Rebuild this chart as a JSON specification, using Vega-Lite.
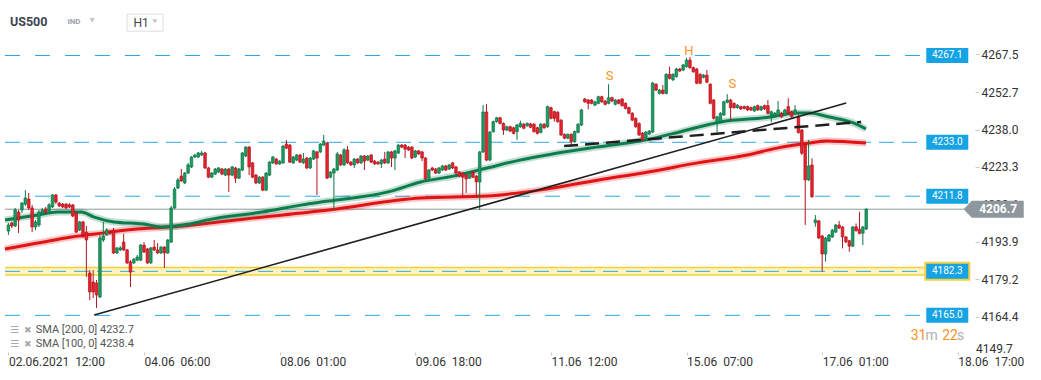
{
"$schema": "https://vega.github.io/schema/vega-lite/v6.json",
"width": 975, "height": 352,
"autosize": {"type": "none"},
"padding": {"left": 0, "top": 0, "right": 66, "bottom": 28},
"background": "#ffffff",
"config": {"view": {"stroke": null}, "font": "Roboto", "text": {"font": "Roboto"}, "axis": {"grid": false, "domain": false}},
"datasets": {
"levels": [{"p": 4267.1}, {"p": 4233.0}, {"p": 4211.8}, {"p": 4182.3}, {"p": 4165.0}],
"notes": [{"i": 177.3, "v": 4259.0, "t": "S"}, {"i": 200.7, "v": 4268.9, "t": "H"}, {"i": 213.5, "v": 4255.9, "t": "S"}],
"trend": [{"i": 25.3, "v": 4165.1}, {"i": 247.1, "v": 4248.4}],
"neck": [{"i": 163.9, "v": 4231.5}, {"i": 251.5, "v": 4241.0}],
"legend": [{"v": 4159.2, "t": "SMA [200, 0] 4232.7"}, {"v": 4153.7, "t": "SMA [100, 0] 4238.4"}],
"sma100": [{"i":-1,"v":4202.5},{"i":8.6,"v":4204.4},{"i":14.5,"v":4205.6},{"i":21.5,"v":4205.6},{"i":25.3,"v":4203.6},{"i":31.1,"v":4201.7},{"i":39.9,"v":4200.9},{"i":45.7,"v":4199.7},{"i":51.5,"v":4200.5},{"i":60.3,"v":4202.9},{"i":74.9,"v":4205.6},{"i":86.6,"v":4208.4},{"i":94.4,"v":4209.9},{"i":112,"v":4213.5},{"i":121.6,"v":4217.4},{"i":131.2,"v":4219.7},{"i":141.2,"v":4222.9},{"i":150.8,"v":4226.0},{"i":160.4,"v":4228.4},{"i":173.3,"v":4231.1},{"i":187.8,"v":4233.9},{"i":195.4,"v":4236.2},{"i":210.1,"v":4241.0},{"i":224.6,"v":4242.9},{"i":232.5,"v":4244.5},{"i":236.3,"v":4244.5},{"i":242.1,"v":4242.9},{"i":249.2,"v":4240.6},{"i":252.9,"v":4238.2}],
"sma200": [{"i":-1,"v":4191.1},{"i":8.6,"v":4193.4},{"i":18.6,"v":4195.8},{"i":28.2,"v":4197.4},{"i":37.8,"v":4198.9},{"i":51.5,"v":4200.1},{"i":69.9,"v":4202.9},{"i":94.4,"v":4206.4},{"i":121.6,"v":4211.1},{"i":141.2,"v":4211.9},{"i":156.6,"v":4214.2},{"i":174.1,"v":4218.2},{"i":188.7,"v":4221.3},{"i":203.3,"v":4224.9},{"i":217.9,"v":4228.0},{"i":226.7,"v":4230.7},{"i":236.3,"v":4232.7},{"i":241.3,"v":4233.5},{"i":252.9,"v":4232.7}],
"candles": [
{"i":0,"o":4198.1,"h":4201.3,"l":4196.6,"c":4200.5},
{"i":1,"o":4201.3,"h":4201.7,"l":4199.3,"c":4200.1},
{"i":2,"o":4200.1,"h":4207.2,"l":4199.7,"c":4206.4},
{"i":3,"o":4205.6,"h":4206.4,"l":4197.4,"c":4202.5},
{"i":4,"o":4206.4,"h":4209.5,"l":4205.2,"c":4209.1},
{"i":5,"o":4208.7,"h":4214.2,"l":4208.0,"c":4211.1},
{"i":6,"o":4210.7,"h":4213.1,"l":4206.4,"c":4207.2},
{"i":7,"o":4207.2,"h":4208.4,"l":4197.7,"c":4199.7},
{"i":8,"o":4199.7,"h":4202.5,"l":4198.5,"c":4201.7},
{"i":9,"o":4200.5,"h":4206.4,"l":4199.7,"c":4205.6},
{"i":10,"o":4205.2,"h":4207.2,"l":4204.8,"c":4206.4},
{"i":11,"o":4206.8,"h":4207.6,"l":4204.8,"c":4205.6},
{"i":12,"o":4206.0,"h":4209.1,"l":4205.6,"c":4208.4},
{"i":13,"o":4207.6,"h":4212.7,"l":4207.2,"c":4212.3},
{"i":14,"o":4212.3,"h":4212.7,"l":4208.7,"c":4209.5},
{"i":15,"o":4209.1,"h":4209.5,"l":4207.6,"c":4208.0},
{"i":16,"o":4208.7,"h":4209.1,"l":4207.2,"c":4207.6},
{"i":17,"o":4208.7,"h":4209.1,"l":4206.8,"c":4207.2},
{"i":18,"o":4208.4,"h":4209.1,"l":4207.2,"c":4207.6},
{"i":19,"o":4208.4,"h":4208.7,"l":4203.6,"c":4204.0},
{"i":20,"o":4205.2,"h":4205.6,"l":4197.4,"c":4197.7},
{"i":21,"o":4198.5,"h":4202.1,"l":4198.1,"c":4201.7},
{"i":22,"o":4201.7,"h":4202.1,"l":4195.4,"c":4196.6},
{"i":23,"o":4197.7,"h":4200.1,"l":4180.1,"c":4194.6},
{"i":24,"o":4181.6,"h":4182.8,"l":4171.0,"c":4174.2},
{"i":25,"o":4178.1,"h":4182.8,"l":4171.8,"c":4174.2},
{"i":26,"o":4177.7,"h":4178.9,"l":4167.9,"c":4173.0},
{"i":27,"o":4172.2,"h":4196.6,"l":4171.8,"c":4195.4},
{"i":28,"o":4194.6,"h":4201.7,"l":4193.8,"c":4196.2},
{"i":29,"o":4196.6,"h":4199.3,"l":4196.2,"c":4198.5},
{"i":30,"o":4198.1,"h":4198.5,"l":4196.6,"c":4197.4},
{"i":31,"o":4198.5,"h":4199.3,"l":4189.1,"c":4189.5},
{"i":32,"o":4189.5,"h":4191.8,"l":4189.1,"c":4191.5},
{"i":33,"o":4190.7,"h":4192.2,"l":4190.3,"c":4191.5},
{"i":34,"o":4193.8,"h":4197.0,"l":4190.3,"c":4190.7},
{"i":35,"o":4190.7,"h":4191.1,"l":4185.2,"c":4185.6},
{"i":36,"o":4186.0,"h":4186.7,"l":4176.1,"c":4182.0},
{"i":37,"o":4185.6,"h":4187.5,"l":4185.2,"c":4187.1},
{"i":38,"o":4186.7,"h":4188.7,"l":4186.3,"c":4187.9},
{"i":39,"o":4186.7,"h":4193.0,"l":4186.3,"c":4192.6},
{"i":40,"o":4192.6,"h":4193.8,"l":4189.5,"c":4189.9},
{"i":41,"o":4191.1,"h":4191.5,"l":4185.2,"c":4185.6},
{"i":42,"o":4185.6,"h":4191.8,"l":4185.2,"c":4191.5},
{"i":43,"o":4191.8,"h":4194.6,"l":4190.3,"c":4190.7},
{"i":44,"o":4190.7,"h":4193.4,"l":4189.1,"c":4189.5},
{"i":45,"o":4189.5,"h":4192.2,"l":4189.1,"c":4191.8},
{"i":46,"o":4191.8,"h":4192.2,"l":4183.6,"c":4189.5},
{"i":47,"o":4189.5,"h":4195.0,"l":4189.1,"c":4194.6},
{"i":48,"o":4193.8,"h":4208.0,"l":4193.4,"c":4207.2},
{"i":49,"o":4207.2,"h":4215.4,"l":4206.8,"c":4214.6},
{"i":50,"o":4215.0,"h":4218.9,"l":4214.6,"c":4218.2},
{"i":51,"o":4219.7,"h":4222.5,"l":4217.4,"c":4217.8},
{"i":52,"o":4217.0,"h":4221.3,"l":4216.6,"c":4220.9},
{"i":53,"o":4220.9,"h":4224.9,"l":4220.5,"c":4224.1},
{"i":54,"o":4223.3,"h":4227.6,"l":4222.9,"c":4227.2},
{"i":55,"o":4227.2,"h":4228.4,"l":4226.8,"c":4228.0},
{"i":56,"o":4227.2,"h":4229.2,"l":4226.8,"c":4228.8},
{"i":57,"o":4228.0,"h":4229.6,"l":4227.6,"c":4228.8},
{"i":58,"o":4228.8,"h":4229.2,"l":4222.5,"c":4222.9},
{"i":59,"o":4222.9,"h":4223.3,"l":4218.9,"c":4219.3},
{"i":60,"o":4219.3,"h":4221.3,"l":4218.9,"c":4220.9},
{"i":61,"o":4220.5,"h":4222.9,"l":4220.1,"c":4222.5},
{"i":62,"o":4221.3,"h":4223.3,"l":4220.9,"c":4222.9},
{"i":63,"o":4222.5,"h":4222.9,"l":4220.1,"c":4220.5},
{"i":64,"o":4220.1,"h":4222.9,"l":4219.7,"c":4222.5},
{"i":65,"o":4222.5,"h":4222.9,"l":4213.5,"c":4220.1},
{"i":66,"o":4220.1,"h":4223.7,"l":4219.7,"c":4223.3},
{"i":67,"o":4222.9,"h":4223.3,"l":4217.0,"c":4218.9},
{"i":68,"o":4218.9,"h":4222.9,"l":4218.6,"c":4222.5},
{"i":69,"o":4222.1,"h":4229.2,"l":4221.7,"c":4228.8},
{"i":70,"o":4227.6,"h":4231.5,"l":4227.2,"c":4231.1},
{"i":71,"o":4231.1,"h":4231.5,"l":4220.1,"c":4223.3},
{"i":72,"o":4224.9,"h":4225.2,"l":4218.9,"c":4219.3},
{"i":73,"o":4220.1,"h":4220.5,"l":4216.6,"c":4217.0},
{"i":74,"o":4217.0,"h":4219.7,"l":4216.6,"c":4219.3},
{"i":75,"o":4219.3,"h":4219.7,"l":4213.8,"c":4214.2},
{"i":76,"o":4214.2,"h":4221.3,"l":4213.8,"c":4220.9},
{"i":77,"o":4220.1,"h":4225.6,"l":4219.7,"c":4225.2},
{"i":78,"o":4224.9,"h":4227.6,"l":4224.5,"c":4227.2},
{"i":79,"o":4226.4,"h":4226.8,"l":4224.1,"c":4224.5},
{"i":80,"o":4224.5,"h":4226.0,"l":4224.1,"c":4225.6},
{"i":81,"o":4224.9,"h":4231.9,"l":4224.5,"c":4231.5},
{"i":82,"o":4232.3,"h":4233.9,"l":4230.3,"c":4230.7},
{"i":83,"o":4231.9,"h":4232.3,"l":4224.9,"c":4225.2},
{"i":84,"o":4224.9,"h":4227.6,"l":4224.5,"c":4227.2},
{"i":85,"o":4226.0,"h":4228.4,"l":4225.6,"c":4228.0},
{"i":86,"o":4228.0,"h":4228.4,"l":4224.9,"c":4225.2},
{"i":87,"o":4224.9,"h":4228.8,"l":4224.5,"c":4226.4},
{"i":88,"o":4226.8,"h":4227.2,"l":4222.5,"c":4222.9},
{"i":89,"o":4222.9,"h":4227.2,"l":4222.5,"c":4226.8},
{"i":90,"o":4226.4,"h":4230.0,"l":4226.0,"c":4229.6},
{"i":91,"o":4229.2,"h":4229.6,"l":4212.3,"c":4226.8},
{"i":92,"o":4229.2,"h":4232.7,"l":4228.8,"c":4232.3},
{"i":93,"o":4231.9,"h":4235.9,"l":4231.5,"c":4233.5},
{"i":94,"o":4232.7,"h":4233.1,"l":4218.6,"c":4218.9},
{"i":95,"o":4219.3,"h":4221.7,"l":4218.9,"c":4221.3},
{"i":96,"o":4220.9,"h":4222.9,"l":4206.4,"c":4222.5},
{"i":97,"o":4222.1,"h":4229.2,"l":4221.7,"c":4228.4},
{"i":98,"o":4228.0,"h":4228.4,"l":4223.7,"c":4224.1},
{"i":99,"o":4224.1,"h":4230.7,"l":4223.7,"c":4230.0},
{"i":100,"o":4230.0,"h":4231.5,"l":4224.5,"c":4224.9},
{"i":101,"o":4225.2,"h":4225.6,"l":4223.7,"c":4224.1},
{"i":102,"o":4224.1,"h":4226.8,"l":4222.9,"c":4226.4},
{"i":103,"o":4226.4,"h":4226.8,"l":4224.5,"c":4224.9},
{"i":104,"o":4224.9,"h":4228.0,"l":4224.5,"c":4227.6},
{"i":105,"o":4227.6,"h":4228.0,"l":4222.1,"c":4225.6},
{"i":106,"o":4226.0,"h":4228.0,"l":4225.6,"c":4227.6},
{"i":107,"o":4228.0,"h":4228.4,"l":4224.9,"c":4225.2},
{"i":108,"o":4225.6,"h":4226.0,"l":4224.1,"c":4224.5},
{"i":109,"o":4225.2,"h":4225.6,"l":4224.1,"c":4224.5},
{"i":110,"o":4224.5,"h":4226.4,"l":4222.9,"c":4226.0},
{"i":111,"o":4226.4,"h":4229.2,"l":4224.5,"c":4224.9},
{"i":112,"o":4224.9,"h":4229.6,"l":4224.5,"c":4229.2},
{"i":113,"o":4229.2,"h":4229.6,"l":4223.3,"c":4226.8},
{"i":114,"o":4226.8,"h":4230.0,"l":4222.1,"c":4229.6},
{"i":115,"o":4228.8,"h":4232.3,"l":4228.4,"c":4231.9},
{"i":116,"o":4231.9,"h":4232.3,"l":4230.7,"c":4231.1},
{"i":117,"o":4231.9,"h":4232.3,"l":4226.8,"c":4230.3},
{"i":118,"o":4231.1,"h":4231.5,"l":4229.6,"c":4230.0},
{"i":119,"o":4231.1,"h":4231.5,"l":4226.4,"c":4226.8},
{"i":120,"o":4227.2,"h":4230.0,"l":4226.8,"c":4229.6},
{"i":121,"o":4229.6,"h":4230.0,"l":4228.0,"c":4228.4},
{"i":122,"o":4229.2,"h":4229.6,"l":4225.6,"c":4226.8},
{"i":123,"o":4226.8,"h":4227.2,"l":4218.2,"c":4218.6},
{"i":124,"o":4218.9,"h":4222.5,"l":4218.6,"c":4222.1},
{"i":125,"o":4222.9,"h":4223.3,"l":4221.7,"c":4222.1},
{"i":126,"o":4222.5,"h":4222.9,"l":4220.5,"c":4220.9},
{"i":127,"o":4220.9,"h":4223.3,"l":4220.5,"c":4222.9},
{"i":128,"o":4222.1,"h":4224.1,"l":4221.7,"c":4223.7},
{"i":129,"o":4223.7,"h":4224.1,"l":4221.7,"c":4222.1},
{"i":130,"o":4222.5,"h":4224.5,"l":4222.1,"c":4224.1},
{"i":131,"o":4224.9,"h":4225.2,"l":4222.5,"c":4222.9},
{"i":132,"o":4223.3,"h":4223.7,"l":4220.5,"c":4220.9},
{"i":133,"o":4221.3,"h":4221.7,"l":4219.3,"c":4219.7},
{"i":134,"o":4220.9,"h":4221.3,"l":4211.5,"c":4219.3},
{"i":135,"o":4220.1,"h":4220.5,"l":4213.1,"c":4218.6},
{"i":136,"o":4218.9,"h":4221.3,"l":4218.6,"c":4220.9},
{"i":137,"o":4221.3,"h":4221.7,"l":4218.9,"c":4219.3},
{"i":138,"o":4219.7,"h":4220.1,"l":4211.5,"c":4217.4},
{"i":139,"o":4217.4,"h":4229.6,"l":4206.4,"c":4229.2},
{"i":140,"o":4229.2,"h":4247.6,"l":4228.8,"c":4244.9},
{"i":141,"o":4244.9,"h":4248.0,"l":4225.6,"c":4226.0},
{"i":142,"o":4226.0,"h":4237.4,"l":4225.6,"c":4237.0},
{"i":143,"o":4237.2,"h":4241.5,"l":4236.8,"c":4241.1},
{"i":144,"o":4241.1,"h":4243.0,"l":4240.7,"c":4242.6},
{"i":145,"o":4242.6,"h":4243.0,"l":4240.0,"c":4240.4},
{"i":146,"o":4240.4,"h":4240.8,"l":4235.9,"c":4237.8},
{"i":147,"o":4237.8,"h":4239.5,"l":4237.4,"c":4239.1},
{"i":148,"o":4239.1,"h":4239.5,"l":4237.0,"c":4237.4},
{"i":149,"o":4238.7,"h":4239.1,"l":4236.1,"c":4236.5},
{"i":150,"o":4237.2,"h":4240.2,"l":4233.9,"c":4239.8},
{"i":151,"o":4239.1,"h":4241.5,"l":4238.7,"c":4240.4},
{"i":152,"o":4240.1,"h":4240.5,"l":4238.1,"c":4238.5},
{"i":153,"o":4239.5,"h":4240.8,"l":4239.1,"c":4240.4},
{"i":154,"o":4240.2,"h":4240.6,"l":4238.5,"c":4238.9},
{"i":155,"o":4240.1,"h":4240.5,"l":4236.8,"c":4237.2},
{"i":156,"o":4238.7,"h":4239.1,"l":4236.1,"c":4236.5},
{"i":157,"o":4236.9,"h":4240.5,"l":4236.5,"c":4240.1},
{"i":158,"o":4240.1,"h":4240.5,"l":4238.3,"c":4238.7},
{"i":159,"o":4239.1,"h":4247.4,"l":4238.7,"c":4247.0},
{"i":160,"o":4246.6,"h":4247.0,"l":4242.0,"c":4242.4},
{"i":161,"o":4245.0,"h":4245.4,"l":4241.1,"c":4242.4},
{"i":162,"o":4244.8,"h":4245.2,"l":4240.7,"c":4241.1},
{"i":163,"o":4241.7,"h":4242.1,"l":4235.5,"c":4235.9},
{"i":164,"o":4236.1,"h":4236.5,"l":4234.2,"c":4234.6},
{"i":165,"o":4234.6,"h":4236.5,"l":4234.2,"c":4236.1},
{"i":166,"o":4236.1,"h":4236.5,"l":4231.3,"c":4233.2},
{"i":167,"o":4233.2,"h":4237.6,"l":4232.8,"c":4237.2},
{"i":168,"o":4236.9,"h":4240.5,"l":4236.5,"c":4240.1},
{"i":169,"o":4239.8,"h":4246.1,"l":4239.4,"c":4245.7},
{"i":170,"o":4250.0,"h":4250.4,"l":4248.5,"c":4248.9},
{"i":171,"o":4249.6,"h":4250.0,"l":4245.9,"c":4248.3},
{"i":172,"o":4249.6,"h":4250.0,"l":4247.9,"c":4248.3},
{"i":173,"o":4247.6,"h":4249.3,"l":4247.2,"c":4248.9},
{"i":174,"o":4248.3,"h":4251.3,"l":4247.9,"c":4250.9},
{"i":175,"o":4250.9,"h":4251.3,"l":4248.5,"c":4248.9},
{"i":176,"o":4249.2,"h":4249.6,"l":4247.5,"c":4247.9},
{"i":177,"o":4248.3,"h":4255.8,"l":4247.9,"c":4250.5},
{"i":178,"o":4250.5,"h":4250.9,"l":4248.8,"c":4249.2},
{"i":179,"o":4247.9,"h":4250.0,"l":4247.5,"c":4249.6},
{"i":180,"o":4249.6,"h":4250.0,"l":4247.9,"c":4248.3},
{"i":181,"o":4250.0,"h":4250.4,"l":4247.0,"c":4247.4},
{"i":182,"o":4248.3,"h":4248.7,"l":4245.9,"c":4246.3},
{"i":183,"o":4246.6,"h":4247.0,"l":4244.0,"c":4244.4},
{"i":184,"o":4244.4,"h":4244.8,"l":4241.3,"c":4241.7},
{"i":185,"o":4242.4,"h":4242.8,"l":4238.7,"c":4239.1},
{"i":186,"o":4240.4,"h":4240.8,"l":4235.5,"c":4235.9},
{"i":187,"o":4236.6,"h":4237.0,"l":4233.5,"c":4233.9},
{"i":188,"o":4234.7,"h":4237.4,"l":4234.3,"c":4237.0},
{"i":189,"o":4236.2,"h":4237.8,"l":4235.9,"c":4237.4},
{"i":190,"o":4237.0,"h":4256.7,"l":4236.6,"c":4256.3},
{"i":191,"o":4255.8,"h":4256.2,"l":4253.1,"c":4253.5},
{"i":192,"o":4252.2,"h":4253.9,"l":4251.8,"c":4253.5},
{"i":193,"o":4253.5,"h":4255.5,"l":4251.8,"c":4252.2},
{"i":194,"o":4252.2,"h":4260.1,"l":4251.8,"c":4259.7},
{"i":195,"o":4259.7,"h":4262.7,"l":4257.7,"c":4258.1},
{"i":196,"o":4257.5,"h":4260.1,"l":4257.1,"c":4259.7},
{"i":197,"o":4258.8,"h":4262.2,"l":4258.4,"c":4261.8},
{"i":198,"o":4261.8,"h":4262.2,"l":4260.6,"c":4261.0},
{"i":199,"o":4261.4,"h":4263.8,"l":4261.0,"c":4263.4},
{"i":200,"o":4262.7,"h":4266.2,"l":4262.3,"c":4265.3},
{"i":201,"o":4265.3,"h":4266.5,"l":4261.9,"c":4262.3},
{"i":202,"o":4262.3,"h":4262.7,"l":4260.3,"c":4260.7},
{"i":203,"o":4261.8,"h":4262.2,"l":4255.8,"c":4256.2},
{"i":204,"o":4259.7,"h":4260.1,"l":4255.8,"c":4256.2},
{"i":205,"o":4258.5,"h":4259.8,"l":4258.1,"c":4259.4},
{"i":206,"o":4259.4,"h":4261.4,"l":4256.2,"c":4256.6},
{"i":207,"o":4255.8,"h":4256.2,"l":4247.9,"c":4248.3},
{"i":208,"o":4249.6,"h":4250.0,"l":4242.0,"c":4242.4},
{"i":209,"o":4240.8,"h":4243.4,"l":4236.9,"c":4243.0},
{"i":210,"o":4241.1,"h":4244.8,"l":4240.7,"c":4244.4},
{"i":211,"o":4243.7,"h":4249.3,"l":4243.3,"c":4248.9},
{"i":212,"o":4248.7,"h":4251.9,"l":4248.3,"c":4249.6},
{"i":213,"o":4249.6,"h":4250.0,"l":4241.8,"c":4246.6},
{"i":214,"o":4248.3,"h":4248.7,"l":4246.2,"c":4246.6},
{"i":215,"o":4246.6,"h":4248.0,"l":4246.2,"c":4247.6},
{"i":216,"o":4247.0,"h":4247.4,"l":4245.7,"c":4246.1},
{"i":217,"o":4247.0,"h":4247.4,"l":4245.9,"c":4246.3},
{"i":218,"o":4247.0,"h":4247.4,"l":4245.3,"c":4245.7},
{"i":219,"o":4246.6,"h":4247.0,"l":4245.3,"c":4245.7},
{"i":220,"o":4245.3,"h":4247.4,"l":4244.9,"c":4247.0},
{"i":221,"o":4247.4,"h":4247.8,"l":4245.3,"c":4245.7},
{"i":222,"o":4245.7,"h":4247.4,"l":4245.3,"c":4247.0},
{"i":223,"o":4247.4,"h":4247.8,"l":4245.7,"c":4246.1},
{"i":224,"o":4247.4,"h":4249.6,"l":4244.0,"c":4244.4},
{"i":225,"o":4243.7,"h":4245.4,"l":4240.8,"c":4245.0},
{"i":226,"o":4243.7,"h":4244.8,"l":4243.3,"c":4244.4},
{"i":227,"o":4243.4,"h":4249.2,"l":4243.0,"c":4245.7},
{"i":228,"o":4244.4,"h":4244.8,"l":4242.6,"c":4243.0},
{"i":229,"o":4243.7,"h":4246.1,"l":4243.3,"c":4245.7},
{"i":230,"o":4247.0,"h":4250.3,"l":4244.0,"c":4244.4},
{"i":231,"o":4245.0,"h":4245.4,"l":4242.6,"c":4243.0},
{"i":232,"o":4244.1,"h":4247.6,"l":4243.7,"c":4245.7},
{"i":233,"o":4243.0,"h":4244.0,"l":4236.4,"c":4236.8},
{"i":234,"o":4237.8,"h":4238.2,"l":4228.0,"c":4228.7},
{"i":235,"o":4231.9,"h":4232.3,"l":4200.5,"c":4218.2},
{"i":236,"o":4218.2,"h":4233.9,"l":4217.8,"c":4223.7},
{"i":237,"o":4224.1,"h":4226.7,"l":4211.2,"c":4211.6},
{"i":238,"o":4201.4,"h":4204.4,"l":4199.8,"c":4202.5},
{"i":239,"o":4202.1,"h":4202.5,"l":4195.0,"c":4195.4},
{"i":240,"o":4196.2,"h":4196.6,"l":4182.2,"c":4189.1},
{"i":241,"o":4189.1,"h":4195.8,"l":4186.1,"c":4195.4},
{"i":242,"o":4194.2,"h":4197.0,"l":4193.8,"c":4196.6},
{"i":243,"o":4195.8,"h":4198.9,"l":4195.4,"c":4198.5},
{"i":244,"o":4197.7,"h":4200.9,"l":4197.4,"c":4200.5},
{"i":245,"o":4200.5,"h":4202.1,"l":4198.9,"c":4199.3},
{"i":246,"o":4199.7,"h":4200.1,"l":4191.3,"c":4195.8},
{"i":247,"o":4195.8,"h":4196.2,"l":4193.4,"c":4193.9},
{"i":248,"o":4194.3,"h":4194.7,"l":4190.0,"c":4192.2},
{"i":249,"o":4192.2,"h":4200.1,"l":4191.8,"c":4199.7},
{"i":250,"o":4199.8,"h":4201.1,"l":4197.9,"c":4198.3},
{"i":251,"o":4198.8,"h":4205.7,"l":4196.8,"c":4197.2},
{"i":252,"o":4197.3,"h":4200.1,"l":4192.6,"c":4199.7},
{"i":253,"o":4198.9,"h":4207.1,"l":4198.5,"c":4206.7}
]
},
"layer": [
{"data": {"name": "candles"}, "mark": {"type": "rule", "opacity": 0},
 "encoding": {
  "x": {"field": "i", "type": "quantitative", "title": null, "scale": {"domain": [-1, 283.6], "nice": false, "zero": false},
   "axis": {"values": [0, 40, 80, 120, 160, 200, 240, 280], "title": null, "domain": false, "grid": false, "tickSize": 3, "tickColor": "#cccccc", "labelAlign": "left", "labelPadding": 1, "labelFontSize": 12, "labelColor": "#333333", "labelFont": "Roboto", "labelFlush": false, "labelOverlap": false,
    "labelExpr": "datum.value==0?'02.06.2021\u00a0\u00a012:00':datum.value==40?'04.06\u00a0\u00a006:00':datum.value==80?'08.06\u00a0\u00a001:00':datum.value==120?'09.06\u00a0\u00a018:00':datum.value==160?'11.06\u00a0\u00a012:00':datum.value==200?'15.06\u00a0\u00a007:00':datum.value==240?'17.06\u00a0\u00a001:00':'18.06\u00a0\u00a017:00'"}},
  "y": {"field": "l", "type": "quantitative", "title": null, "scale": {"domain": [4150.6, 4288.9], "nice": false, "zero": false},
   "axis": {"orient": "right", "values": [4164.4, 4179.2, 4193.9, 4208.6, 4223.3, 4238.0, 4252.7, 4267.5], "format": ".1f", "title": null, "domain": false, "grid": false, "tickSize": 4, "tickColor": "#cccccc", "labelPadding": 2, "labelFontSize": 12, "labelColor": "#333333", "labelFont": "Roboto"}},
  "y2": {"field": "h"}}},
{"data": {"values": [{"p": 4182.3}]}, "mark": {"type": "rule", "color": "#f4d03f", "strokeWidth": 9},
 "encoding": {"x": {"datum": -1, "type": "quantitative", "scale": {"domain": [-1, 283.6], "nice": false, "zero": false}}, "x2": {"datum": 270.6},
  "y": {"field": "p", "type": "quantitative", "scale": {"domain": [4150.6, 4288.9], "nice": false, "zero": false}}}},
{"data": {"values": [{"p": 4182.3}]}, "mark": {"type": "rule", "color": "#fff5bd", "strokeWidth": 6},
 "encoding": {"x": {"datum": -1, "type": "quantitative", "scale": {"domain": [-1, 283.6], "nice": false, "zero": false}}, "x2": {"datum": 270.6},
  "y": {"field": "p", "type": "quantitative", "scale": {"domain": [4150.6, 4288.9], "nice": false, "zero": false}}}},
{"data": {"values": [{"p": 4182.3}]}, "mark": {"type": "point", "shape": "M-2.3,-0.95H2.3V0.95H-2.3Z", "size": 400, "filled": true, "color": "#f4d03f", "opacity": 1},
 "encoding": {"x": {"datum": 276.9, "type": "quantitative", "scale": {"domain": [-1, 283.6], "nice": false, "zero": false}},
  "y": {"field": "p", "type": "quantitative", "scale": {"domain": [4150.6, 4288.9], "nice": false, "zero": false}}}},
{"data": {"name": "levels"}, "transform": [{"filter": "datum.p == 4233.0 || datum.p == 4182.3"}], "mark": {"type": "rule", "color": "#2aa9e0", "strokeWidth": 1, "strokeDash": [15, 8]},
 "encoding": {"x": {"datum": -1, "type": "quantitative", "scale": {"domain": [-1, 283.6], "nice": false, "zero": false}}, "x2": {"datum": 269.5},
  "y": {"field": "p", "type": "quantitative", "scale": {"domain": [4150.6, 4288.9], "nice": false, "zero": false}}}},
{"data": {"name": "levels"}, "transform": [{"filter": "datum.p != 4233.0 && datum.p != 4182.3"}], "mark": {"type": "rule", "color": "#2aa9e0", "strokeWidth": 1, "strokeDash": [15, 15]},
 "encoding": {"x": {"datum": -1, "type": "quantitative", "scale": {"domain": [-1, 283.6], "nice": false, "zero": false}}, "x2": {"datum": 269.5},
  "y": {"field": "p", "type": "quantitative", "scale": {"domain": [4150.6, 4288.9], "nice": false, "zero": false}}}},
{"data": {"values": [{"p": 4206.7}]}, "mark": {"type": "rule", "color": "#8e989c", "strokeWidth": 1},
 "encoding": {"x": {"datum": -1, "type": "quantitative", "scale": {"domain": [-1, 283.6], "nice": false, "zero": false}}, "x2": {"datum": 282.1},
  "y": {"field": "p", "type": "quantitative", "scale": {"domain": [4150.6, 4288.9], "nice": false, "zero": false}}}},
{"data": {"name": "sma200"}, "mark": {"type": "line", "color": "#e31b1b", "strokeWidth": 7, "opacity": 0.25, "interpolate": "monotone"},
 "encoding": {"x": {"field": "i", "type": "quantitative", "scale": {"domain": [-1, 283.6], "nice": false, "zero": false}},
  "y": {"field": "v", "type": "quantitative", "scale": {"domain": [4150.6, 4288.9], "nice": false, "zero": false}}}},
{"data": {"name": "sma200"}, "mark": {"type": "line", "color": "#e01414", "strokeWidth": 3, "interpolate": "monotone"},
 "encoding": {"x": {"field": "i", "type": "quantitative", "scale": {"domain": [-1, 283.6], "nice": false, "zero": false}},
  "y": {"field": "v", "type": "quantitative", "scale": {"domain": [4150.6, 4288.9], "nice": false, "zero": false}}}},
{"data": {"name": "sma100"}, "mark": {"type": "line", "color": "#0e7d4e", "strokeWidth": 7, "opacity": 0.25, "interpolate": "monotone"},
 "encoding": {"x": {"field": "i", "type": "quantitative", "scale": {"domain": [-1, 283.6], "nice": false, "zero": false}},
  "y": {"field": "v", "type": "quantitative", "scale": {"domain": [4150.6, 4288.9], "nice": false, "zero": false}}}},
{"data": {"name": "sma100"}, "mark": {"type": "line", "color": "#0e7d4e", "strokeWidth": 3, "interpolate": "monotone"},
 "encoding": {"x": {"field": "i", "type": "quantitative", "scale": {"domain": [-1, 283.6], "nice": false, "zero": false}},
  "y": {"field": "v", "type": "quantitative", "scale": {"domain": [4150.6, 4288.9], "nice": false, "zero": false}}}},
{"data": {"name": "candles"}, "mark": {"type": "rule", "strokeWidth": 1},
 "encoding": {
  "x": {"field": "i", "type": "quantitative", "scale": {"domain": [-1, 283.6], "nice": false, "zero": false}},
  "y": {"field": "l", "type": "quantitative", "scale": {"domain": [4150.6, 4288.9], "nice": false, "zero": false}},
  "y2": {"field": "h"},
  "color": {"condition": {"test": "datum.c >= datum.o", "value": "#0f7446"}, "value": "#b3141d"}}},
{"data": {"name": "candles"}, "mark": {"type": "bar", "width": 2.6, "strokeWidth": 0.7},
 "encoding": {
  "x": {"field": "i", "type": "quantitative", "scale": {"domain": [-1, 283.6], "nice": false, "zero": false}},
  "y": {"field": "o", "type": "quantitative", "scale": {"domain": [4150.6, 4288.9], "nice": false, "zero": false}},
  "y2": {"field": "c"},
  "fill": {"condition": {"test": "datum.c >= datum.o", "value": "#1e9a63"}, "value": "#e6232d"},
  "stroke": {"condition": {"test": "datum.c >= datum.o", "value": "#0f7446"}, "value": "#b3141d"}}},
{"data": {"name": "trend"}, "mark": {"type": "line", "color": "#1f1f1f", "strokeWidth": 1.6},
 "encoding": {"x": {"field": "i", "type": "quantitative", "scale": {"domain": [-1, 283.6], "nice": false, "zero": false}},
  "y": {"field": "v", "type": "quantitative", "scale": {"domain": [4150.6, 4288.9], "nice": false, "zero": false}}}},
{"data": {"name": "neck"}, "mark": {"type": "line", "color": "#1f1f1f", "strokeWidth": 2.5, "strokeDash": [14, 7]},
 "encoding": {"x": {"field": "i", "type": "quantitative", "scale": {"domain": [-1, 283.6], "nice": false, "zero": false}},
  "y": {"field": "v", "type": "quantitative", "scale": {"domain": [4150.6, 4288.9], "nice": false, "zero": false}}}},
{"data": {"name": "levels"}, "mark": {"type": "point", "shape": "M-2.1,-0.75H2.1V0.75H-2.1Z", "size": 400, "filled": true, "color": "#16a3e3", "opacity": 1},
 "encoding": {"x": {"datum": 276.9, "type": "quantitative", "scale": {"domain": [-1, 283.6], "nice": false, "zero": false}},
  "y": {"field": "p", "type": "quantitative", "scale": {"domain": [4150.6, 4288.9], "nice": false, "zero": false}}}},
{"data": {"name": "levels"}, "mark": {"type": "text", "color": "#ffffff", "fontSize": 10, "align": "center", "baseline": "middle", "font": "Roboto"},
 "encoding": {"x": {"datum": 276.9, "type": "quantitative", "scale": {"domain": [-1, 283.6], "nice": false, "zero": false}},
  "y": {"field": "p", "type": "quantitative", "scale": {"domain": [4150.6, 4288.9], "nice": false, "zero": false}},
  "text": {"field": "p", "type": "quantitative", "format": ".1f"}}},
{"data": {"values": [{"p": 4206.7}]}, "mark": {"type": "point", "shape": "M-3.0,0L-2.2,-0.85H3.0V0.85H-2.2Z", "size": 400, "filled": true, "color": "#8e989c", "opacity": 1},
 "encoding": {"x": {"datum": 290.6, "type": "quantitative", "scale": {"domain": [-1, 283.6], "nice": false, "zero": false}},
  "y": {"field": "p", "type": "quantitative", "scale": {"domain": [4150.6, 4288.9], "nice": false, "zero": false}}}},
{"data": {"values": [{"p": 4206.7}]}, "mark": {"type": "text", "color": "#ffffff", "fontSize": 12, "fontWeight": "bold", "align": "center", "baseline": "middle", "font": "Roboto"},
 "encoding": {"x": {"datum": 291.9, "type": "quantitative", "scale": {"domain": [-1, 283.6], "nice": false, "zero": false}},
  "y": {"field": "p", "type": "quantitative", "scale": {"domain": [4150.6, 4288.9], "nice": false, "zero": false}},
  "text": {"field": "p", "type": "quantitative", "format": ".1f"}}},
{"data": {"name": "notes"}, "mark": {"type": "text", "color": "#f7941d", "fontSize": 13, "align": "center", "baseline": "middle", "font": "Roboto"},
 "encoding": {"x": {"field": "i", "type": "quantitative", "scale": {"domain": [-1, 283.6], "nice": false, "zero": false}},
  "y": {"field": "v", "type": "quantitative", "scale": {"domain": [4150.6, 4288.9], "nice": false, "zero": false}},
  "text": {"field": "t"}}},
{"data": {"name": "legend"}, "mark": {"type": "text", "color": "#555555", "fontSize": 11, "align": "left", "baseline": "middle", "font": "Roboto"},
 "encoding": {"x": {"datum": 8.05, "type": "quantitative", "scale": {"domain": [-1, 283.6], "nice": false, "zero": false}},
  "y": {"field": "v", "type": "quantitative", "scale": {"domain": [4150.6, 4288.9], "nice": false, "zero": false}},
  "text": {"field": "t"}}},
{"data": {"name": "legend"}, "mark": {"type": "text", "color": "#a8a8a8", "fontSize": 10, "align": "center", "baseline": "middle", "font": "DejaVu Sans", "text": "☰"},
 "encoding": {"x": {"datum": 1.9, "type": "quantitative", "scale": {"domain": [-1, 283.6], "nice": false, "zero": false}},
  "y": {"field": "v", "type": "quantitative", "scale": {"domain": [4150.6, 4288.9], "nice": false, "zero": false}}}},
{"data": {"name": "legend"}, "mark": {"type": "text", "color": "#a8a8a8", "fontSize": 9, "align": "center", "baseline": "middle", "font": "DejaVu Sans", "text": "✖"},
 "encoding": {"x": {"datum": 5.7, "type": "quantitative", "scale": {"domain": [-1, 283.6], "nice": false, "zero": false}},
  "y": {"field": "v", "type": "quantitative", "scale": {"domain": [4150.6, 4288.9], "nice": false, "zero": false}}}},
{"data": {"values": [{}]}, "mark": {"type": "text", "text": "4149.7", "color": "#333333", "fontSize": 12, "align": "left", "baseline": "middle", "font": "Roboto"},
 "encoding": {"x": {"datum": 285.35, "type": "quantitative", "scale": {"domain": [-1, 283.6], "nice": false, "zero": false}},
  "y": {"datum": 4151.8, "type": "quantitative", "scale": {"domain": [4150.6, 4288.9], "nice": false, "zero": false}}}},
{"data": {"values": [{}]}, "mark": {"type": "text", "text": "US500", "color": "#3c4450", "fontSize": 12.5, "fontWeight": "bold", "align": "left", "baseline": "middle", "font": "Roboto"},
 "encoding": {"x": {"datum": 0.46, "type": "quantitative", "scale": {"domain": [-1, 283.6], "nice": false, "zero": false}},
  "y": {"datum": 4280.3, "type": "quantitative", "scale": {"domain": [4150.6, 4288.9], "nice": false, "zero": false}}}},
{"data": {"values": [{}]}, "mark": {"type": "text", "text": "IND", "color": "#9aa3ad", "fontSize": 8, "fontWeight": "bold", "align": "left", "baseline": "middle", "font": "Roboto"},
 "encoding": {"x": {"datum": 17.4, "type": "quantitative", "scale": {"domain": [-1, 283.6], "nice": false, "zero": false}},
  "y": {"datum": 4280.1, "type": "quantitative", "scale": {"domain": [4150.6, 4288.9], "nice": false, "zero": false}}}},
{"data": {"values": [{}]}, "mark": {"type": "point", "shape": "triangle-down", "size": 28, "filled": true, "color": "#c4c4c4", "opacity": 1},
 "encoding": {"x": {"datum": 24.7, "type": "quantitative", "scale": {"domain": [-1, 283.6], "nice": false, "zero": false}},
  "y": {"datum": 4280.9, "type": "quantitative", "scale": {"domain": [4150.6, 4288.9], "nice": false, "zero": false}}}},
{"data": {"values": [{}]}, "mark": {"type": "point", "shape": "M-1.8,-0.85H1.8V0.85H-1.8Z", "size": 400, "filled": true, "fill": "#ffffff", "stroke": "#dddddd", "strokeWidth": 1, "opacity": 1},
 "encoding": {"x": {"datum": 40.3, "type": "quantitative", "scale": {"domain": [-1, 283.6], "nice": false, "zero": false}},
  "y": {"datum": 4280.0, "type": "quantitative", "scale": {"domain": [4150.6, 4288.9], "nice": false, "zero": false}}}},
{"data": {"values": [{}]}, "mark": {"type": "text", "text": "H1", "color": "#444444", "fontSize": 12, "align": "left", "baseline": "middle", "font": "Roboto"},
 "encoding": {"x": {"datum": 36.9, "type": "quantitative", "scale": {"domain": [-1, 283.6], "nice": false, "zero": false}},
  "y": {"datum": 4280.0, "type": "quantitative", "scale": {"domain": [4150.6, 4288.9], "nice": false, "zero": false}}}},
{"data": {"values": [{}]}, "mark": {"type": "point", "shape": "triangle-down", "size": 26, "filled": true, "color": "#c4c4c4", "opacity": 1},
 "encoding": {"x": {"datum": 43.2, "type": "quantitative", "scale": {"domain": [-1, 283.6], "nice": false, "zero": false}},
  "y": {"datum": 4280.5, "type": "quantitative", "scale": {"domain": [4150.6, 4288.9], "nice": false, "zero": false}}}},
{"data": {"values": [{}]}, "mark": {"type": "text", "text": "31", "color": "#f7941d", "fontSize": 14, "align": "left", "baseline": "middle", "font": "Roboto"},
 "encoding": {"x": {"datum": 266.1, "type": "quantitative", "scale": {"domain": [-1, 283.6], "nice": false, "zero": false}},
  "y": {"datum": 4156.9, "type": "quantitative", "scale": {"domain": [4150.6, 4288.9], "nice": false, "zero": false}}}},
{"data": {"values": [{}]}, "mark": {"type": "text", "text": "m", "color": "#b0b0b0", "fontSize": 14, "align": "left", "baseline": "middle", "font": "Roboto"},
 "encoding": {"x": {"datum": 270.5, "type": "quantitative", "scale": {"domain": [-1, 283.6], "nice": false, "zero": false}},
  "y": {"datum": 4156.9, "type": "quantitative", "scale": {"domain": [4150.6, 4288.9], "nice": false, "zero": false}}}},
{"data": {"values": [{}]}, "mark": {"type": "text", "text": "22", "color": "#f7941d", "fontSize": 14, "align": "left", "baseline": "middle", "font": "Roboto"},
 "encoding": {"x": {"datum": 275.4, "type": "quantitative", "scale": {"domain": [-1, 283.6], "nice": false, "zero": false}},
  "y": {"datum": 4156.9, "type": "quantitative", "scale": {"domain": [4150.6, 4288.9], "nice": false, "zero": false}}}},
{"data": {"values": [{}]}, "mark": {"type": "text", "text": "s", "color": "#b0b0b0", "fontSize": 14, "align": "left", "baseline": "middle", "font": "Roboto"},
 "encoding": {"x": {"datum": 279.8, "type": "quantitative", "scale": {"domain": [-1, 283.6], "nice": false, "zero": false}},
  "y": {"datum": 4156.9, "type": "quantitative", "scale": {"domain": [4150.6, 4288.9], "nice": false, "zero": false}}}}
]
}
